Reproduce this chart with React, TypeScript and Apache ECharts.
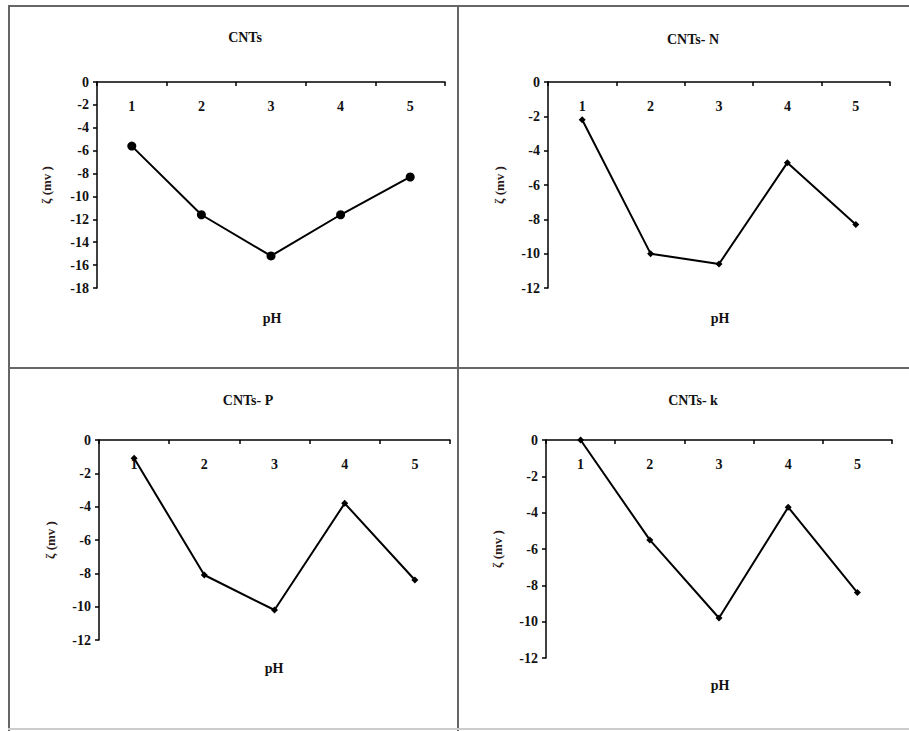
import React, { useEffect, useRef } from "react";
import * as echarts from "echarts";

const categories = ["1", "2", "3", "4", "5"];
const titles = ["CNTs", "CNTs- N", "CNTs- P", "CNTs- k"];
const cntsValues = [-5.6, -11.6, -15.2, -11.6, -8.3];
const cntsNValues = [-2.2, -10.0, -10.6, -4.7, -8.3];
const cntsPValues = [-1.1, -8.1, -10.2, -3.8, -8.4];
const cntsKValues = [0, -5.5, -9.8, -3.7, -8.4];
const yMins = [-18, -12, -12, -12];
const yName = "ζ (mv )";
const xName = "pH";

const FONT = "'Liberation Serif', 'Times New Roman', serif";

export default function App() {
  const ref = useRef<HTMLDivElement>(null);
  useEffect(() => {
    if (!ref.current) return;
    const chart = echarts.init(ref.current, null, { renderer: "svg" });
    const grids = [
      { left: 97, top: 82, width: 348, height: 206 },
      { left: 548, top: 82, width: 342, height: 206 },
      { left: 99, top: 440, width: 351, height: 200 },
      { left: 546, top: 440, width: 346, height: 218 },
    ].map((g) => ({ ...g, containLabel: false, outerBoundsMode: "none" }));
    const titlePos = [
      { x: 240, y: 25 },
      { x: 688, y: 27 },
      { x: 243, y: 388 },
      { x: 688, y: 388 },
    ];
    const xNamePos = [
      { x: 272, y: 318 },
      { x: 720, y: 318 },
      { x: 274, y: 668 },
      { x: 720, y: 685 },
    ];
    const yNameGaps = [44, 42, 42, 42];
    const seriesData = [cntsValues, cntsNValues, cntsPValues, cntsKValues];
    const textStyle = { fontFamily: FONT, fontWeight: "bold" as const, color: "#111" };

    const frameColor = "#666";
    const line = (x1: number, y1: number, x2: number, y2: number, color = frameColor, w = 2) => ({
      type: "line",
      shape: { x1, y1, x2, y2 },
      style: { stroke: color, lineWidth: w },
      silent: true,
    });

    chart.setOption({
      animation: false,
      backgroundColor: "#fff",
      title: titles.map((t, i) => ({
        text: t,
        left: titlePos[i].x,
        top: titlePos[i].y,
        textAlign: "center",
        textStyle: { ...textStyle, fontSize: 14 },
      })),
      grid: grids,
      xAxis: grids.map((_, i) => ({
        type: "category",
        gridIndex: i,
        data: categories,
        boundaryGap: true,
        position: "top",
        axisLine: { onZero: false, lineStyle: { color: "#000", width: 1.5 } },
        axisTick: { show: true, inside: true, length: 4, lineStyle: { color: "#000", width: 1.5 } },
        axisLabel: { ...textStyle, fontSize: 14, margin: 17, inside: true },
        splitLine: { show: false },
      })),
      yAxis: grids.map((_, i) => ({
        type: "value",
        gridIndex: i,
        min: yMins[i],
        max: 0,
        interval: 2,
        axisLine: { show: true, lineStyle: { color: "#000", width: 1.5 } },
        axisTick: { show: true, length: 4, lineStyle: { color: "#000", width: 1.5 } },
        axisLabel: { ...textStyle, fontSize: 14, margin: 8 },
        splitLine: { show: false },
        name: yName,
        nameLocation: "middle",
        nameRotate: 90,
        nameGap: yNameGaps[i],
        nameTextStyle: { ...textStyle, fontSize: 13, color: "#2a1a1a" },
      })),
      series: seriesData.map((d, i) => ({
        type: "line",
        xAxisIndex: i,
        yAxisIndex: i,
        data: d,
        symbol: i === 0 ? "circle" : "diamond",
        symbolSize: i === 0 ? 9 : 7,
        showSymbol: true,
        lineStyle: { color: "#000", width: 2 },
        itemStyle: { color: "#000" },
      })),
      graphic: [
        line(8, 6, 909, 6),
        line(9, 5, 9, 731),
        line(458, 5, 458, 731),
        line(8, 368, 909, 368),
        line(8, 729, 909, 729, "#ccc", 2),
        ...xNamePos.map((p) => ({
          type: "text",
          x: p.x,
          y: p.y,
          silent: true,
          style: {
            text: xName,
            fontFamily: FONT,
            fontWeight: "bold",
            fontSize: 14,
            fill: "#111",
            textAlign: "center",
            textVerticalAlign: "middle",
          },
        })),
      ],
    });
    return () => chart.dispose();
  }, []);
  return (
    <div
      ref={ref}
      style={{ position: "fixed", left: 0, top: 0, width: 909, height: 731 }}
    />
  );
}
